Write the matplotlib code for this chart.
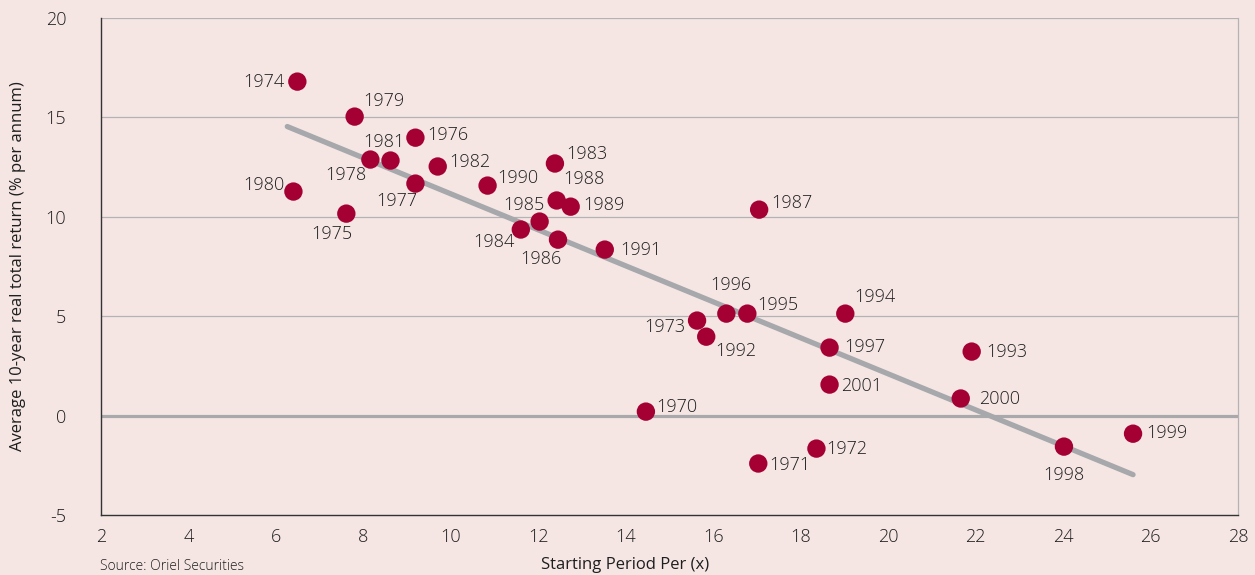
import matplotlib
matplotlib.use("Agg")
import matplotlib.pyplot as plt

years = [1974, 1979, 1980, 1975, 1978, 1981, 1976, 1977, 1982, 1990,
         1983, 1988, 1989, 1985, 1984, 1986, 1991, 1987, 1996, 1995,
         1994, 1973, 1992, 1997, 2001, 1993, 2000, 1970, 1971, 1972,
         1998, 1999]
pe = [6.49, 7.80, 6.40, 7.61, 8.16, 8.62, 9.19, 9.19, 9.70, 10.84,
      12.38, 12.42, 12.74, 12.03, 11.60, 12.45, 13.52, 17.05, 16.30, 16.78,
      19.02, 15.63, 15.84, 18.66, 18.66, 21.91, 21.66, 14.46, 17.03, 18.36,
      24.02, 25.60]
ret = [16.8, 15.04, 11.27, 10.16, 12.88, 12.83, 13.98, 11.67, 12.53, 11.57,
       12.68, 10.82, 10.51, 9.76, 9.36, 8.85, 8.35, 10.36, 5.13, 5.13,
       5.13, 4.78, 3.97, 3.42, 1.56, 3.22, 0.86, 0.2, -2.41, -1.66,
       -1.56, -0.91]
trend_x = [6.26, 25.60]
trend_y = [14.54, -2.97]
x_ticks = [2, 4, 6, 8, 10, 12, 14, 16, 18, 20, 22, 24, 26, 28]
y_ticks = [-5, 0, 5, 10, 15, 20]

# label offsets in pixels (dx right, dy down), horizontal alignment
offsets = {
    1974: (-13, 0, 'right'), 1979: (9, -16, 'left'), 1980: (-9, -7, 'right'),
    1975: (-15, 20, 'center'), 1978: (-4, 15, 'right'), 1981: (-7, -19, 'center'),
    1976: (12, -3, 'left'), 1977: (-19, 17, 'center'), 1982: (12, -5, 'left'),
    1990: (10, -8, 'left'), 1983: (11, -10, 'left'), 1988: (7, -21, 'left'),
    1989: (13, -2, 'left'), 1985: (5, -17, 'right'), 1984: (-6, 12, 'right'),
    1986: (-17, 19, 'center'), 1991: (15, 0, 'left'), 1987: (12, -7, 'left'),
    1996: (4, -29, 'center'), 1995: (10, -9, 'left'), 1994: (9, -17, 'left'),
    1973: (-12, 6, 'right'), 1992: (9, 14, 'left'), 1997: (15, -1, 'left'),
    2001: (12, 1, 'left'), 1993: (15, 0, 'left'), 2000: (18, 0, 'left'),
    1970: (10, -5, 'left'), 1971: (11, 1, 'left'), 1972: (10, 0, 'left'),
    1998: (0, 28, 'center'), 1999: (13, -1, 'left'),
}

plt.rcParams['font.family'] = ['Open Sans', 'DejaVu Sans']
plt.rcParams['font.weight'] = 'light'
bg = '#F5E6E4'
txt = '#1E1E1E'

fig = plt.figure(figsize=(12.55, 5.75), dpi=100, facecolor=bg)
ax = fig.add_axes([101/1255, 1-515/575, (1238-101)/1255, (515-18)/575])
ax.set_facecolor(bg)

ax.set_xlim(2, 28)
ax.set_ylim(-5, 20)
ax.set_xticks(x_ticks)
ax.set_yticks(y_ticks)
ax.set_xticklabels([str(v) for v in x_ticks])
ax.set_yticklabels([str(v) for v in y_ticks])
ax.tick_params(length=0, labelsize=13, colors=txt)
ax.tick_params(axis='y', pad=25)
ax.tick_params(axis='x', pad=9)

for v in y_ticks:
    if v == -5:
        continue
    if v == 0:
        ax.axhline(v, color='#A9A9AB', lw=2.3, zorder=1)
    else:
        ax.axhline(v, color='#B3B3B5', lw=0.9, zorder=1)

for s in ['left', 'bottom']:
    ax.spines[s].set_color('#333333')
    ax.spines[s].set_linewidth(1.0)
ax.spines['right'].set_color('#B3B3B5')
ax.spines['right'].set_linewidth(0.9)
ax.spines['top'].set_visible(False)

ax.plot(trend_x, trend_y, color='#A6A8AB', lw=3.8, solid_capstyle='round', zorder=2)
ax.scatter(pe, ret, s=175, color='#A50034', edgecolors='none', zorder=3)

for yr, x, y in zip(years, pe, ret):
    dx, dy, ha = offsets[yr]
    ax.annotate(str(yr), (x, y), xytext=(dx, -dy), textcoords='offset pixels',
                ha=ha, va='center', fontsize=13, color=txt, zorder=4)

ax.set_xlabel('Starting Period Per (x)', fontsize=12, color=txt)
ax.xaxis.set_label_coords((625-101)/1137, -0.085)
ax.set_ylabel('Average 10-year real total return (% per annum)', fontsize=12,
              color=txt)
ax.yaxis.set_label_coords(-0.066, 0.5)

fig.text(100/1255, 1-566/575, 'Source: Oriel Securities', fontsize=10,
         color=txt, ha='left', va='center')

fig.savefig('out.png', dpi=100, facecolor=bg)
